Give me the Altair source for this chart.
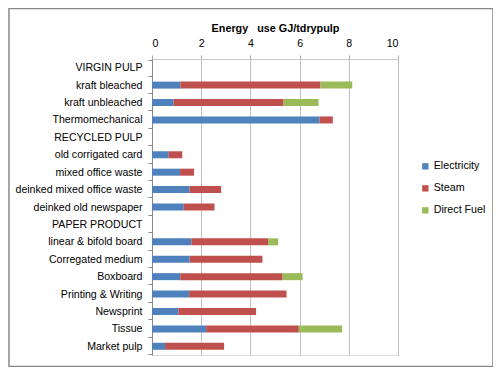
import altair as alt
import pandas as pd

categories = [
    "VIRGIN PULP", "kraft bleached", "kraft unbleached", "Thermomechanical\u00a0",
    "RECYCLED PULP", "old corrigated card", "mixed office waste",
    "deinked mixed office waste", "deinked old newspaper", "PAPER PRODUCT",
    "linear & bifold board", "Corregated medium", "Boxboard",
    "Printing & Writing", "Newsprint", "Tissue", "Market pulp",
]
series = ["Electricity", "Steam", "Direct Fuel"]
electricity = [None, 1.15, 0.88, 6.81, None, 0.68, 1.14, 1.53, 1.29, None,
               1.60, 1.53, 1.15, 1.51, 1.07, 2.20, 0.53]
steam = [None, 5.70, 4.47, 0.54, None, 0.55, 0.57, 1.28, 1.25, None,
         3.12, 2.96, 4.16, 3.96, 3.16, 3.77, 2.40]
direct_fuel = [None, 1.29, 1.42, None, None, None, None, None, None, None,
               0.41, None, 0.81, None, None, 1.76, None]
colors = ["#4F81BD", "#C0504D", "#9BBB59"]
x_ticks = [0, 2, 4, 6, 8, 10]

rows = []
for s_idx, (name, vals) in enumerate(zip(series, [electricity, steam, direct_fuel])):
    for cat, v in zip(categories, vals):
        if v is not None:
            rows.append({"category": cat, "series": name, "value": v, "order": s_idx})
df = pd.DataFrame(rows)

FONT = "Liberation Sans"

bars = alt.Chart(df).mark_bar(size=7).encode(
    y=alt.Y("category:N", scale=alt.Scale(domain=categories),
            axis=alt.Axis(title=None, tickBand="extent", labelFontSize=10.6,
                          labelColor="#000", labelFont=FONT, labelPadding=6,
                          tickSize=4, tickColor="#888", domainColor="#888",
                          grid=False, labelLimit=200)),
    x=alt.X("value:Q", stack="zero",
            scale=alt.Scale(domain=[0, 10], nice=False),
            axis=alt.Axis(orient="top", values=x_ticks, format="d",
                          title="Energy\u00a0\u00a0\u00a0use GJ/tdrypulp",
                          titleFont=FONT, titleFontSize=10.8, titleFontWeight="bold",
                          titleColor="#000", titlePadding=5,
                          labelFont=FONT, labelFontSize=10.6, labelColor="#000",
                          labelPadding=7, tickSize=4, tickColor="#aaa",
                          domainColor="#c8c8c8", gridColor="#c0c0c0")),
    color=alt.Color("series:N", scale=alt.Scale(domain=series, range=colors),
                    legend=alt.Legend(title=None, orient="none", legendX=268, legendY=102,
                                      symbolType="square", symbolSize=40,
                                      symbolStrokeWidth=0,
                                      labelFont=FONT, labelFontSize=10.7,
                                      labelColor="#000", rowPadding=10,
                                      labelOffset=3)),
    order=alt.Order("order:Q"),
)

border = alt.Chart(pd.DataFrame({"a": [0]})).mark_rect(
    fill=None, stroke="#888", strokeWidth=1.5, clip=False
).encode(
    x=alt.value(-143), x2=alt.value(341),
    y=alt.value(-50.5), y2=alt.value(307.5),
)

chart = alt.layer(border, bars).properties(
    width=246, height=296,
    padding={"left": 144, "top": 51, "right": 95, "bottom": 12},
    autosize=alt.AutoSizeParams(type="none"),
).configure_view(stroke="#999", strokeWidth=1).configure(background="white")

chart.save("out.html", embed_options={"renderer": "svg", "actions": False})
